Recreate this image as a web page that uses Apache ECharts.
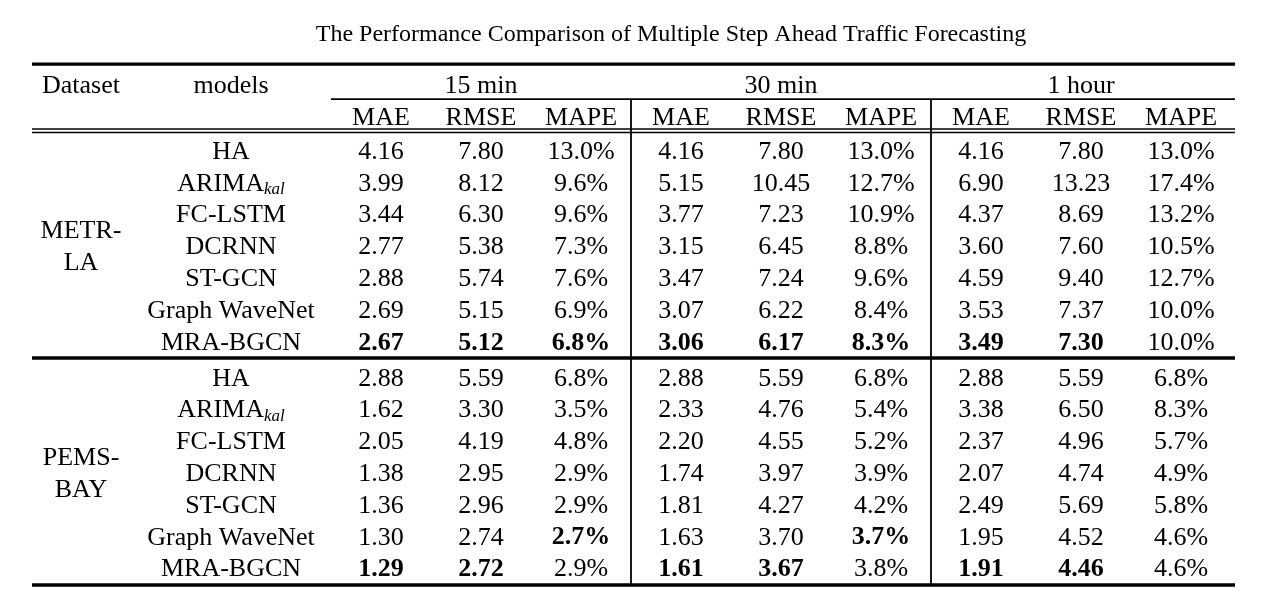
<!DOCTYPE html>
<html><head><meta charset="utf-8">
<script src="https://cdn.jsdelivr.net/npm/echarts@6/dist/echarts.min.js"></script>
<style>html,body{margin:0;padding:0;background:#fff}#c{width:1265px;height:605px}</style>
</head><body><div id="c"></div>
<script>
// ---------- data ----------
const chartTitle = 'The Performance Comparison of Multiple Step Ahead Traffic Forecasting';
const datasets = ['METR-\nLA', 'PEMS-\nBAY'];
const models = ['HA', 'ARIMA|kal', 'FC-LSTM', 'DCRNN', 'ST-GCN', 'Graph WaveNet', 'MRA-BGCN'];
const horizons = ['15 min', '30 min', '1 hour'];
const metrics = ['MAE', 'RMSE', 'MAPE'];
const metrLA = [
  [4.16, 7.80, 13.0, 4.16, 7.80, 13.0, 4.16, 7.80, 13.0],
  [3.99, 8.12, 9.6, 5.15, 10.45, 12.7, 6.90, 13.23, 17.4],
  [3.44, 6.30, 9.6, 3.77, 7.23, 10.9, 4.37, 8.69, 13.2],
  [2.77, 5.38, 7.3, 3.15, 6.45, 8.8, 3.60, 7.60, 10.5],
  [2.88, 5.74, 7.6, 3.47, 7.24, 9.6, 4.59, 9.40, 12.7],
  [2.69, 5.15, 6.9, 3.07, 6.22, 8.4, 3.53, 7.37, 10.0],
  [2.67, 5.12, 6.8, 3.06, 6.17, 8.3, 3.49, 7.30, 10.0]
];
const pemsBay = [
  [2.88, 5.59, 6.8, 2.88, 5.59, 6.8, 2.88, 5.59, 6.8],
  [1.62, 3.30, 3.5, 2.33, 4.76, 5.4, 3.38, 6.50, 8.3],
  [2.05, 4.19, 4.8, 2.20, 4.55, 5.2, 2.37, 4.96, 5.7],
  [1.38, 2.95, 2.9, 1.74, 3.97, 3.9, 2.07, 4.74, 4.9],
  [1.36, 2.96, 2.9, 1.81, 4.27, 4.2, 2.49, 5.69, 5.8],
  [1.30, 2.74, 2.7, 1.63, 3.70, 3.7, 1.95, 4.52, 4.6],
  [1.29, 2.72, 2.9, 1.61, 3.67, 3.8, 1.91, 4.46, 4.6]
];
const metrBold = [[], [], [], [], [], [], [0, 1, 2, 3, 4, 5, 6, 7]];
const pemsBold = [[], [], [], [], [], [2, 5], [0, 1, 3, 4, 6, 7]];

// ---------- layout (units: columns / rows) ----------
const W = 1265, H = 605;
const COL_PX = 100, FIRST_COL_PX = 381;
const ROW_PX = 31.8, FIRST_ROW_PX = 150;
const GROUP_STEP = 7.13;
const X_DATASET = -3, X_MODEL = -1.5;
const X_LEFT = -3.49, X_RIGHT = 8.54, X_SUB_LEFT = -0.5;
const Y_TITLE = -3.68, Y_HEAD1 = -2.08, Y_HEAD2 = -1.07;
const TEXT_DY = 2;
const FONT = '"Liberation Serif", "Times New Roman", serif';
const FS = 26;

const groups = [metrLA, pemsBay];
const bolds = [metrBold, pemsBold];

function fmt(v, j) { return (j % 3 === 2) ? v.toFixed(1) + '%' : v.toFixed(2); }

const texts = [];
texts.push([2.9, Y_TITLE, chartTitle, 'normal', 24]);
texts.push([X_DATASET, Y_HEAD1, 'Dataset', 'normal', FS]);
texts.push([X_MODEL, Y_HEAD1, 'models', 'normal', FS]);
horizons.forEach((h, k) => texts.push([1 + 3 * k, Y_HEAD1, h, 'normal', FS]));
for (let j = 0; j < 9; j++) texts.push([j, Y_HEAD2, metrics[j % 3], 'normal', FS]);
groups.forEach((rows, g) => {
  const y0 = g * GROUP_STEP;
  texts.push([X_DATASET, y0 + 3, datasets[g], 'normal', FS]);
  rows.forEach((vals, i) => {
    texts.push([X_MODEL, y0 + i, models[i], 'normal', FS]);
    vals.forEach((v, j) => {
      texts.push([j, y0 + i, fmt(v, j), bolds[g][i].includes(j) ? 'bold' : 'normal', FS]);
    });
  });
});

// rules: x1, y1, x2, y2, lineWidth
const Y_TOP = -2.70, Y_SUB = -1.60, Y_D1 = -0.66, Y_D2 = -0.55, Y_MID = 6.54, Y_BOT = 13.68;
const rules = [
  [X_LEFT, Y_TOP, X_RIGHT, Y_TOP, 3.2],
  [X_SUB_LEFT, Y_SUB, X_RIGHT, Y_SUB, 1.6],
  [X_LEFT, Y_D1, X_RIGHT, Y_D1, 1.6],
  [X_LEFT, Y_D2, X_RIGHT, Y_D2, 1.6],
  [X_LEFT, Y_MID, X_RIGHT, Y_MID, 3.4],
  [X_LEFT, Y_BOT, X_RIGHT, Y_BOT, 3.4],
  [2.5, Y_SUB, 2.5, Y_BOT, 1.8],
  [5.5, Y_SUB, 5.5, Y_BOT, 1.8]
];

const chart = echarts.init(document.getElementById('c'), null, { renderer: 'canvas' });
chart.setOption({
  backgroundColor: '#fff',
  animation: false,
  grid: { left: 0, right: 0, top: 0, bottom: 0 },
  xAxis: { type: 'value', min: -FIRST_COL_PX / COL_PX, max: (W - FIRST_COL_PX) / COL_PX, show: false },
  yAxis: { type: 'value', inverse: true, min: -FIRST_ROW_PX / ROW_PX, max: (H - FIRST_ROW_PX) / ROW_PX, show: false },
  series: [
    {
      type: 'custom', clip: false, silent: true,
      data: rules,
      renderItem: function (params, api) {
        const p1 = api.coord([api.value(0), api.value(1)]);
        const p2 = api.coord([api.value(2), api.value(3)]);
        return { type: 'line', shape: { x1: p1[0], y1: p1[1], x2: p2[0], y2: p2[1] },
          style: { stroke: '#000', lineWidth: api.value(4) } };
      }
    },
    {
      type: 'custom', clip: false, silent: true,
      data: texts,
      dimensions: ['x', 'y', 'text', 'weight', 'size'],
      renderItem: function (params, api) {
        const item = texts[params.dataIndex];
        const p = api.coord([item[0], item[1]]);
        let txt = item[2];
        const style = {
          x: p[0], y: p[1] + TEXT_DY, align: 'center', verticalAlign: 'middle',
          fill: '#000', fontFamily: FONT, fontSize: item[4], fontWeight: item[3],
          lineHeight: 32
        };
        if (txt.indexOf('|') >= 0) {
          const parts = txt.split('|');
          style.text = '{a|' + parts[0] + '}{s|' + parts[1] + '}';
          style.rich = {
            a: { fontFamily: FONT, fontSize: FS, lineHeight: 32, verticalAlign: 'middle', fill: '#000' },
            s: { fontFamily: FONT, fontSize: 17, fontStyle: 'italic', lineHeight: 32, verticalAlign: 'bottom', padding: [0, 0, 2, 0], fill: '#000' }
          };
        } else {
          style.text = txt;
        }
        return { type: 'text', style: style };
      }
    }
  ]
});
</script></body></html>
